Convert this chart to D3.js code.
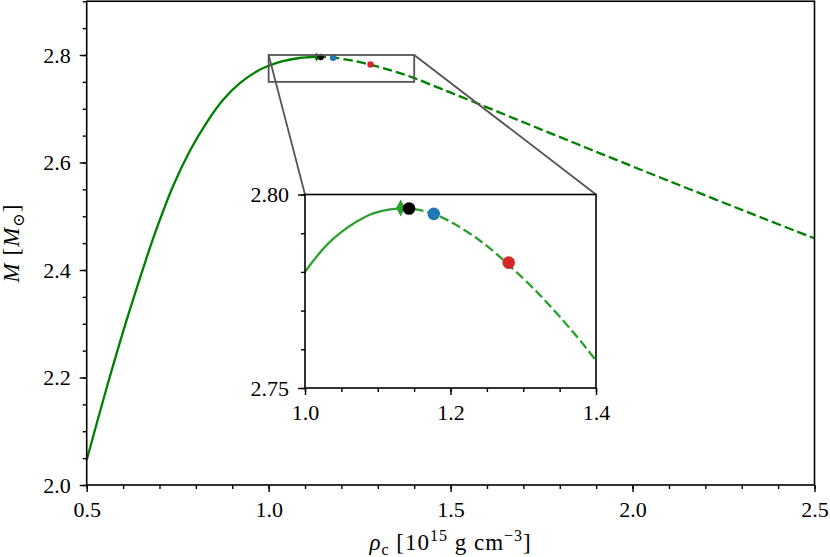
<!DOCTYPE html>
<html>
<head>
<meta charset="utf-8">
<script src="https://cdn.jsdelivr.net/npm/d3@7"></script>
<style>
  body { margin: 0; background: #fff; }
  svg text { font-family: "Liberation Serif", "Times New Roman", Times, "DejaVu Serif", "Noto Serif", serif; }
</style>
</head>
<body>
<script>
/* M(rho_c) curve with zoomed inset around the maximum */

var width = 830;
var height = 557;
var serif = "'Liberation Serif', 'Times New Roman', Times, 'DejaVu Serif', 'Noto Serif', serif";

// stable branch (solid)
var stableRho = [0.5, 0.553, 0.608, 0.663, 0.6885, 0.738, 0.784, 0.830, 0.875, 0.921, 0.967, 1.0, 1.039, 1.0845, 1.107, 1.1315];
var stableM   = [2.0465, 2.1764, 2.3029, 2.4195, 2.4700, 2.5571, 2.6224, 2.6748, 2.7167, 2.7475, 2.7695, 2.780, 2.7886, 2.7944, 2.7958, 2.7965];

// unstable branch (dashed)
var unstableRho = [1.1315, 1.143, 1.177, 1.236, 1.300, 1.346, 1.397, 1.480, 1.572, 1.663, 1.755, 1.846, 1.933, 2.094, 2.369, 2.5];
var unstableM   = [2.7965, 2.7964, 2.795, 2.7887, 2.7783, 2.7693, 2.7578, 2.7355, 2.7103, 2.6852, 2.6598, 2.6348, 2.6110, 2.5673, 2.4935, 2.459];

// maximum mass marker and the three coloured points
var maxRho = [1.1315];
var maxM = [2.7965];
var pointRho = [1.143, 1.177, 1.280];
var pointM = [2.7964, 2.795, 2.7824];
var pointColor = ["#000000", "#1f77b4", "#d62728"];

// ticks
var xMajor = [0.5, 1.0, 1.5, 2.0, 2.5];
var yMajor = [2.0, 2.2, 2.4, 2.6, 2.8];
var insetXMajor = [1.0, 1.2, 1.4];
var insetYMajor = [2.75, 2.80];

var svg = d3.select("body").append("svg")
	.attr("width", width)
	.attr("height", height);

var x = d3.scaleLinear().domain([0.5, 2.5]).range([86.7, 814.5]);
var y = d3.scaleLinear().domain([2.0, 2.9]).range([485, 1.25]);

function toPts(rs, ms) {
	return rs.map(function (r, i) { return [r, ms[i]]; });
}

var mainLine = d3.line()
	.x(function (d) { return x(d[0]); })
	.y(function (d) { return y(d[1]); })
	.curve(d3.curveCatmullRom.alpha(0.5));

var g = svg.append("g");

g.append("path")
	.attr("d", mainLine(toPts(stableRho, stableM)))
	.attr("fill", "none")
	.attr("stroke", "#008000")
	.attr("stroke-width", 2.3);

g.append("path")
	.attr("d", mainLine(toPts(unstableRho, unstableM)))
	.attr("fill", "none")
	.attr("stroke", "#008000")
	.attr("stroke-width", 2.3)
	.attr("stroke-dasharray", "9.5,4");

// thin diamond
function diamond(cx, cy, w, h) {
	return "M" + cx + "," + (cy - h / 2) + "L" + (cx + w / 2) + "," + cy +
		"L" + cx + "," + (cy + h / 2) + "L" + (cx - w / 2) + "," + cy + "Z";
}

g.append("path")
	.attr("d", diamond(x(maxRho[0]), y(maxM[0]), 5, 9))
	.attr("fill", "#008000");

g.selectAll("circle.pt").data(pointRho).enter().append("circle")
	.attr("cx", function (d) { return x(d); })
	.attr("cy", function (d, i) { return y(pointM[i]); })
	.attr("r", 3.2)
	.attr("fill", function (d, i) { return pointColor[i]; });

// axes of the main plot
var minorX = d3.range(0, 21).map(function (i) { return 0.5 + i * 0.1; });
var minorY = d3.range(0, 19).map(function (i) { return 2.0 + i * 0.05; });

svg.append("g")
	.attr("transform", "translate(0," + 485 + ")")
	.call(d3.axisBottom(x).tickValues(minorX).tickSize(4).tickFormat(""));
svg.append("g")
	.attr("transform", "translate(0," + 485 + ")")
	.call(d3.axisBottom(x).tickValues(xMajor).tickSize(7).tickPadding(9).tickFormat(d3.format(".1f")));
svg.append("g")
	.attr("transform", "translate(" + 86.7 + ",0)")
	.call(d3.axisLeft(y).tickValues(minorY).tickSize(4).tickFormat(""));
svg.append("g")
	.attr("transform", "translate(" + 86.7 + ",0)")
	.call(d3.axisLeft(y).tickValues(yMajor).tickSize(7).tickPadding(9).tickFormat(d3.format(".1f")));

svg.append("rect")
	.attr("x", 86.7)
	.attr("y", 1.25)
	.attr("width", 814.5 - 86.7)
	.attr("height", 485 - 1.25)
	.attr("fill", "none")
	.attr("stroke", "black")
	.attr("stroke-width", 1.6);

// inset scales
var ix = d3.scaleLinear().domain([1.0, 1.4]).range([305, 596]);
var iy = d3.scaleLinear().domain([2.75, 2.80]).range([388, 194.5]);

// zoom rectangle and connectors
svg.append("rect")
	.attr("x", x(1.0))
	.attr("y", y(2.80))
	.attr("width", x(1.4) - x(1.0))
	.attr("height", y(2.75) - y(2.80))
	.attr("fill", "none")
	.attr("stroke", "#555555")
	.attr("stroke-width", 1.8);

svg.append("line")
	.attr("x1", x(1.0)).attr("y1", y(2.80))
	.attr("x2", ix(1.0)).attr("y2", iy(2.80))
	.attr("stroke", "#555555")
	.attr("stroke-width", 1.8);

svg.append("line")
	.attr("x1", x(1.4)).attr("y1", y(2.80))
	.attr("x2", ix(1.4)).attr("y2", iy(2.80))
	.attr("stroke", "#555555")
	.attr("stroke-width", 1.8);

// inset
svg.append("rect")
	.attr("x", 305)
	.attr("y", 194.5)
	.attr("width", 596 - 305)
	.attr("height", 388 - 194.5)
	.attr("fill", "white");

svg.append("clipPath").attr("id", "insetClip")
	.append("rect")
	.attr("x", 305)
	.attr("y", 194.5)
	.attr("width", 596 - 305)
	.attr("height", 388 - 194.5);

var insetLine = d3.line()
	.x(function (d) { return ix(d[0]); })
	.y(function (d) { return iy(d[1]); })
	.curve(d3.curveCatmullRom.alpha(0.5));

var gi = svg.append("g").attr("clip-path", "url(#insetClip)");

gi.append("path")
	.attr("d", insetLine(toPts(stableRho, stableM)))
	.attr("fill", "none")
	.attr("stroke", "#2ca02c")
	.attr("stroke-width", 2.3);

gi.append("path")
	.attr("d", insetLine(toPts(unstableRho, unstableM)))
	.attr("fill", "none")
	.attr("stroke", "#2ca02c")
	.attr("stroke-width", 2.3)
	.attr("stroke-dasharray", "9.5,4");

gi.append("path")
	.attr("d", diamond(ix(maxRho[0]), iy(maxM[0]), 9, 17))
	.attr("fill", "#2ca02c");

gi.selectAll("circle.pt").data(pointRho).enter().append("circle")
	.attr("cx", function (d) { return ix(d); })
	.attr("cy", function (d, i) { return iy(pointM[i]); })
	.attr("r", 6.3)
	.attr("fill", function (d, i) { return pointColor[i]; });

var insetMinorX = d3.range(0, 9).map(function (i) { return 1.0 + i * 0.05; });
var insetMinorY = d3.range(0, 6).map(function (i) { return 2.75 + i * 0.01; });

svg.append("g")
	.attr("transform", "translate(0," + 388 + ")")
	.call(d3.axisBottom(ix).tickValues(insetMinorX).tickSize(4).tickFormat(""));
svg.append("g")
	.attr("transform", "translate(0," + 388 + ")")
	.call(d3.axisBottom(ix).tickValues(insetXMajor).tickSize(7).tickPadding(9).tickFormat(d3.format(".1f")));
svg.append("g")
	.attr("transform", "translate(" + 305 + ",0)")
	.call(d3.axisLeft(iy).tickValues(insetMinorY).tickSize(4).tickFormat(""));
svg.append("g")
	.attr("transform", "translate(" + 305 + ",0)")
	.call(d3.axisLeft(iy).tickValues(insetYMajor).tickSize(7).tickPadding(9).tickFormat(d3.format(".2f")));

svg.append("rect")
	.attr("x", 305)
	.attr("y", 194.5)
	.attr("width", 596 - 305)
	.attr("height", 388 - 194.5)
	.attr("fill", "none")
	.attr("stroke", "black")
	.attr("stroke-width", 1.6);

// style all the axes the same way
svg.selectAll(".domain").remove();
svg.selectAll(".tick line").attr("stroke", "black").attr("stroke-width", 1.4);
svg.selectAll("g").attr("font-family", null);
svg.selectAll(".tick text")
	.attr("fill", "black")
	.style("font-family", serif)
	.style("font-size", "22px");

// axis labels
var xlab = svg.append("text")
	.attr("x", 450.6)
	.attr("y", 550)
	.attr("text-anchor", "middle")
	.style("font-family", serif)
	.style("font-size", "23px")
	.style("letter-spacing", "1px");
xlab.append("tspan").attr("font-style", "italic").text("ρ");
xlab.append("tspan").attr("dy", 5).style("font-size", "16px").text("c");
xlab.append("tspan").attr("dy", -5).text("  [10");
xlab.append("tspan").attr("dy", -9).style("font-size", "16px").text("15");
xlab.append("tspan").attr("dy", 9).text("  g  cm");
xlab.append("tspan").attr("dy", -9).style("font-size", "16px").text("−3");
xlab.append("tspan").attr("dy", 9).text("]");

var ylab = svg.append("text")
	.attr("transform", "translate(19,243) rotate(-90)")
	.attr("text-anchor", "middle")
	.style("font-family", serif)
	.style("font-size", "23px")
	.style("letter-spacing", "1px");
ylab.append("tspan").attr("font-style", "italic").text("M");
ylab.append("tspan").text("  [");
ylab.append("tspan").attr("font-style", "italic").text("M");
ylab.append("tspan").attr("dy", 5).style("font-size", "16px").text("⊙");
ylab.append("tspan").attr("dy", -5).text("]");
</script>
</body>
</html>
